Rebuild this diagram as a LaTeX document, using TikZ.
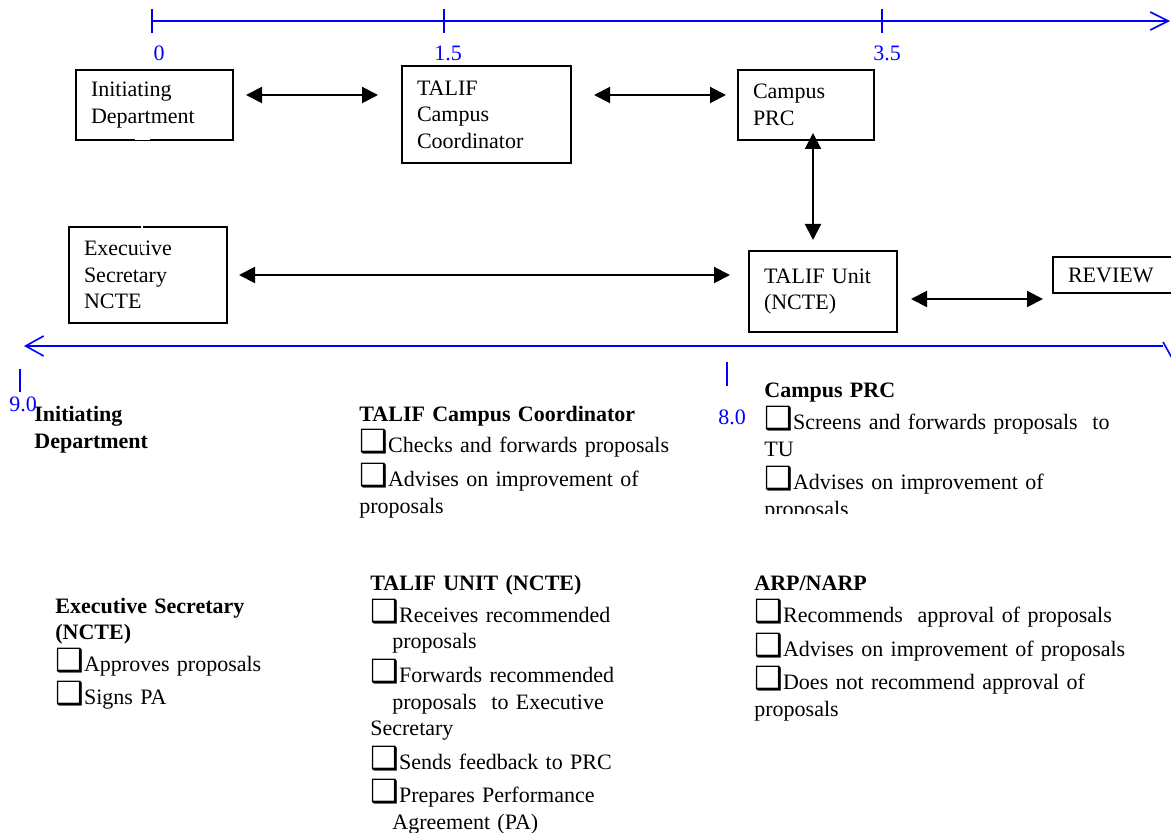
\documentclass[tikz,border=0pt]{standalone}
\usepackage{fontspec}
\setmainfont{Liberation Serif}
\newfontfamily\dingfont{DejaVu Sans}
\usetikzlibrary{arrows.meta}
\newcommand{\chk}{\smash{\dingfont\bfseries\fontsize{16}{16}\selectfont ❑}}
\newcommand{\ind}{\hspace*{11pt}}
\tikzstyle{block} = [rectangle, draw, line width=1pt, anchor=north west,
    align=left, inner xsep=7.5pt, inner ysep=0pt]
\tikzstyle{line} = [draw, line width=1pt,
    {Triangle[length=8pt,width=8pt]}-{Triangle[length=8pt,width=8pt]}]
\tikzstyle{axis} = [draw, blue, line width=0.8pt]
\tikzstyle{axislabel} = [blue, inner sep=0pt]
\tikzstyle{note} = [anchor=base west, align=left, inner sep=0pt]

\begin{document}
\begin{tikzpicture}[x=0.5pt, y=-0.5pt, font=\fontsize{11}{13.3}\selectfont]
  \useasboundingbox (0,0) rectangle (1171,833);
  \clip (0,0) rectangle (1171,833);

  % Place nodes
  \node [block, text width=63.5pt, minimum height=35pt] (init) at (75,69) {Initiating\\Department};
  \node [block, text width=69.5pt, minimum height=48.5pt] (cc) at (401,65) {TALIF\\Campus\\Coordinator};
  \node [block, text width=53pt, minimum height=35pt] (prc) at (737,69) {Campus\\PRC};
  \node [block, text width=64pt, minimum height=48pt] (exec) at (68,226) {Executive\\Secretary\\NCTE};
  \node [block, text width=59pt, minimum height=40.5pt] (unit) at (748,250) {TALIF Unit\\(NCTE)};
  \node [block, text width=55pt, minimum height=18pt] (review) at (1052,256) {REVIEW};

  % connectors
  \path [line] ([shift={(12,-10)}]init.east) -- ([shift={(-23,-19.5)}]cc.west);
  \path [line] ([shift={(22,-19.5)}]cc.east) -- ([shift={(-11,-10)}]prc.west);
  \path [line] ([shift={(7,-8)}]prc.south) -- ([shift={(-10,-10)}]unit.north);
  \path [line] ([shift={(11,0)}]exec.east) -- ([shift={(-18,-16.5)}]unit.west);
  \path [line] ([shift={(13,7.5)}]unit.east) -- ([shift={(-9,24)}]review.west);

  % white gaps in the boxes
  \draw [white, line width=1pt] (142,222) -- (142,252);
  \draw [white, line width=1.5pt] (135,139) -- (150,139);

  % time scale
  \draw [axis, -{Straight Barb[length=9pt,width=9pt]}] (152,21) -- (1170,21);
  \foreach \x/\lx/\lab in {152/159/0, 444/448/1.5, 882/887/3.5}{
    \draw [axis] (\x,9) -- (\x,33);
    \node [axislabel] (lab\x) at (\lx,53) {\lab};
  }
  \draw [axis, -{Straight Barb[length=9pt,width=10pt]}] (1163,346) -- (24,346);
  \draw [axis] (1163,342) -- (1172,358);
  \draw [axis] (20,369) -- (20,392);
  \draw [axis] (727,362) -- (727,386);
  \node [axislabel] (labnine) at (23,404) {9.0};
  \node [axislabel] (labeight) at (732,417) {8.0};

  % descriptions
  \node [note, text width=100pt] (initnote) at (34,422)
        {\textbf{Initiating}\\\textbf{Department}};
  \begin{scope}
    \clip (350,400) rectangle (700,518);
    \node [note, text width=170pt] (ccnote) at (359,422)
          {\textbf{TALIF Campus Coordinator}\\[2.2pt]
           \chk Checks and forwards proposals\\[3.7pt]
           \chk Advises on improvement of\\
           proposals};
  \end{scope}
  \begin{scope}
    \clip (750,380) rectangle (1171,513);
    \node [note, text width=200pt] (prcnote) at (764,398)
          {\textbf{Campus PRC}\\[2.7pt]
           \chk Screens and forwards proposals\ \ to\\
           TU\\[3.2pt]
           \chk Advises on improvement of\\
           proposals};
  \end{scope}
  \node [note, text width=140pt] (execnote) at (55,613)
        {\textbf{Executive Secretary}\\
         \textbf{(NCTE)}\\[2.5pt]
         \chk Approves proposals\\[3.2pt]
         \chk Signs PA};
  \node [note, text width=170pt] (unitnote) at (370,590)
        {\textbf{TALIF UNIT (NCTE)}\\[2.7pt]
         \chk Receives recommended\\
         \ind proposals\\[3.7pt]
         \chk Forwards recommended\\
         \ind proposals\ \ to Executive\\
         Secretary\\[3.7pt]
         \chk Sends feedback to PRC\\[3.2pt]
         \chk Prepares Performance\\
         \ind Agreement (PA)};
  \node [note, text width=205pt] (arpnote) at (754,590)
        {\textbf{ARP/NARP}\\[3pt]
         \chk Recommends\ \ approval of proposals\\[3.7pt]
         \chk Advises on improvement of proposals\\[3.2pt]
         \chk Does not recommend approval of\\
         proposals};
\end{tikzpicture}
\end{document}
